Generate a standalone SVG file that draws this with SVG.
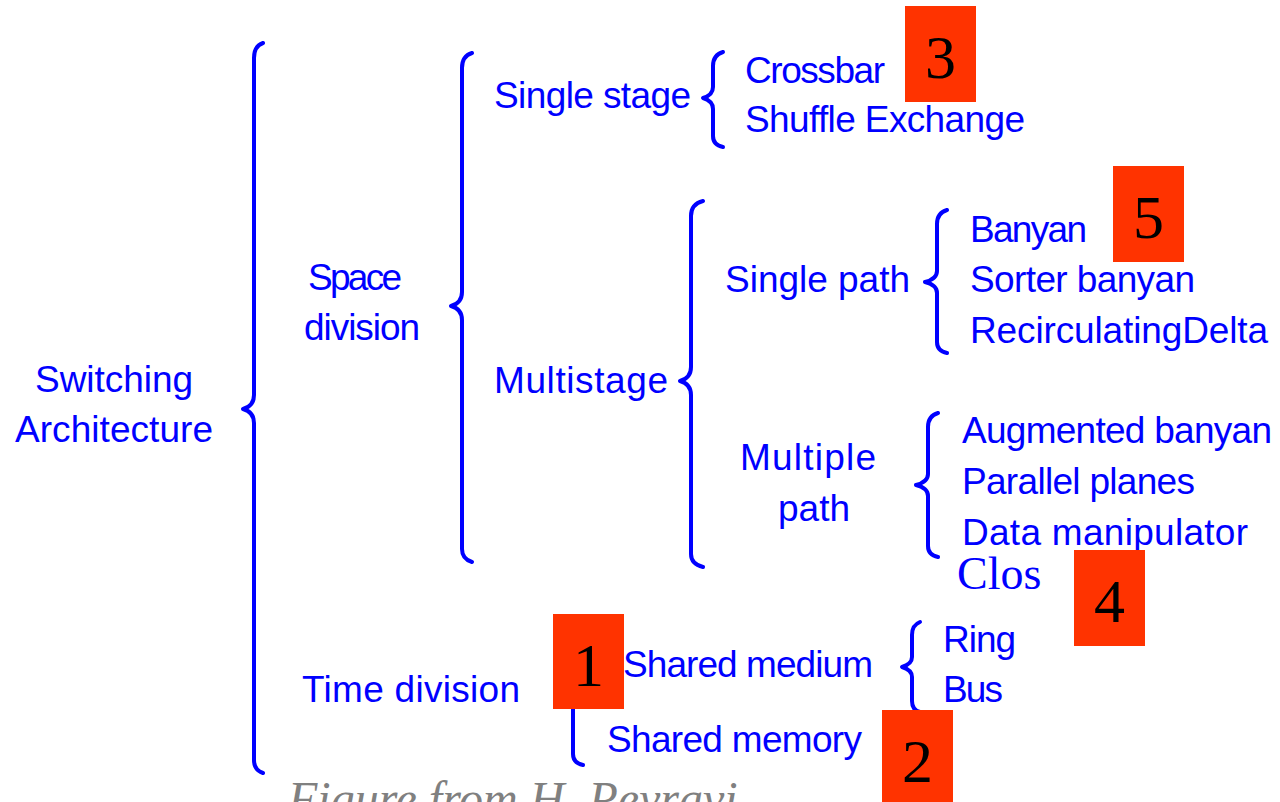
<svg xmlns="http://www.w3.org/2000/svg" width="1280" height="802" viewBox="0 0 1280 802">
  <style>
    .lbl { font-family: "Liberation Sans", Arial, sans-serif; font-size: 37px; fill: #0000ff; }
    .mid { text-anchor: middle; }
    .brace { fill: none; stroke: #0000ff; stroke-width: 4; stroke-linecap: round; stroke-linejoin: round; }
    .tag rect { fill: #ff3300; }
    .tag text { font-family: "Liberation Serif", "Times New Roman", serif; font-size: 62px; fill: #000000; text-anchor: middle; }
    .clos { font-family: "Liberation Serif", "Times New Roman", serif; font-size: 46px; fill: #0000ff; }
    .credit { font-family: "Liberation Serif", "Times New Roman", serif; font-style: italic; font-size: 48px; fill: #808080; }
  </style>
  <rect width="1280" height="802" fill="#ffffff"/>

  <!-- curly braces joining each level of the taxonomy -->
  <g id="connectors">
    <path class="brace" d="M263,43 Q254,46 254,58 L254,395 Q254,406 243,409 Q254,412 254,423 L254,760 Q254,770 263,773"/>
    <path class="brace" d="M472,53 Q462,56 462,68 L462,292 Q462,303 451,306 Q462,309 462,320 L462,549 Q462,559 472,562"/>
    <path class="brace" d="M703,201 Q691,204 691,216 L691,367 Q691,378 680,381 Q691,384 691,395 L691,554 Q691,564 703,567"/>
    <path class="brace" d="M723,52 Q713,55 713,66 L713,87 Q713,95 703,98 Q713,101 713,109 L713,136 Q713,145 723,147"/>
    <path class="brace" d="M947,210 Q937,213 937,224 L937,271 Q937,279 925,282 Q937,285 937,293 L937,342 Q937,351 947,353"/>
    <path class="brace" d="M938,413 Q928,416 928,427 L928,474 Q928,482 916,485 Q928,488 928,496 L928,546 Q928,555 938,557"/>
    <path class="brace" d="M920,622 Q912,625 912,635 L912,657 Q912,664 902,667 Q912,670 912,677 L912,701 Q912,710 920,712"/>
    <path class="brace" d="M583,620 Q573,623 573,633 L573,680 Q573,687 563,690 Q573,693 573,701 L573,754 Q573,763 583,765"/>
  </g>

  <g id="switching-architecture">
    <text class="lbl mid" x="114" y="392" textLength="158" lengthAdjust="spacing">Switching</text>
    <text class="lbl mid" x="114" y="442" textLength="198" lengthAdjust="spacing">Architecture</text>
  </g>

  <g id="space-division">
    <text class="lbl" x="308" y="290" textLength="94" lengthAdjust="spacing">Space</text>
    <text class="lbl" x="304" y="340" textLength="116" lengthAdjust="spacing">division</text>
  </g>

  <g id="time-division">
    <text class="lbl" x="302" y="702" textLength="218" lengthAdjust="spacing">Time division</text>
  </g>

  <g id="single-stage">
    <text class="lbl" x="494" y="108" textLength="197" lengthAdjust="spacing">Single stage</text>
  </g>

  <g id="crossbar">
    <text class="lbl" x="745" y="83" textLength="140" lengthAdjust="spacing">Crossbar</text>
  </g>

  <g id="shuffle-exchange">
    <text class="lbl" x="745" y="132" textLength="280" lengthAdjust="spacing">Shuffle Exchange</text>
  </g>

  <g id="multistage">
    <text class="lbl" x="494" y="393" textLength="174" lengthAdjust="spacing">Multistage</text>
  </g>

  <g id="single-path">
    <text class="lbl" x="725" y="292" textLength="185" lengthAdjust="spacing">Single path</text>
  </g>

  <g id="banyan">
    <text class="lbl" x="970" y="242" textLength="117" lengthAdjust="spacing">Banyan</text>
  </g>

  <g id="sorter-banyan">
    <text class="lbl" x="970" y="292" textLength="225" lengthAdjust="spacing">Sorter banyan</text>
  </g>

  <g id="recirculating-delta">
    <text class="lbl" x="970" y="343" textLength="298" lengthAdjust="spacing">RecirculatingDelta</text>
  </g>

  <g id="multiple-path">
    <text class="lbl mid" x="808" y="470" textLength="136" lengthAdjust="spacing">Multiple</text>
    <text class="lbl mid" x="814" y="521" textLength="72" lengthAdjust="spacing">path</text>
  </g>

  <g id="augmented-banyan">
    <text class="lbl" x="962" y="443" textLength="310" lengthAdjust="spacing">Augmented banyan</text>
  </g>

  <g id="parallel-planes">
    <text class="lbl" x="962" y="494" textLength="233" lengthAdjust="spacing">Parallel planes</text>
  </g>

  <g id="data-manipulator">
    <text class="lbl" x="962" y="545" textLength="286" lengthAdjust="spacing">Data manipulator</text>
  </g>

  <g id="clos">
    <text class="clos" x="957" y="589">Clos</text>
  </g>

  <g id="shared-medium">
    <text class="lbl" x="623" y="677" textLength="250" lengthAdjust="spacing">Shared medium</text>
  </g>

  <g id="ring">
    <text class="lbl" x="943" y="652" textLength="73" lengthAdjust="spacing">Ring</text>
  </g>

  <g id="bus">
    <text class="lbl" x="943" y="702" textLength="60" lengthAdjust="spacing">Bus</text>
  </g>

  <g id="shared-memory">
    <text class="lbl" x="607" y="752" textLength="255" lengthAdjust="spacing">Shared memory</text>
  </g>

  <!-- numbered markers -->
  <g id="tag-1" class="tag">
    <rect x="553" y="614" width="71" height="95"/>
    <text x="588.5" y="686">1</text>
  </g>
  <g id="tag-2" class="tag">
    <rect x="882" y="710" width="71" height="96"/>
    <text x="917.5" y="782">2</text>
  </g>
  <g id="tag-3" class="tag">
    <rect x="905" y="6" width="71" height="96"/>
    <text x="940.5" y="78">3</text>
  </g>
  <g id="tag-4" class="tag">
    <rect x="1074" y="550" width="71" height="96"/>
    <text x="1109.5" y="622">4</text>
  </g>
  <g id="tag-5" class="tag">
    <rect x="1113" y="166" width="71" height="96"/>
    <text x="1148.5" y="238">5</text>
  </g>

  <g id="credit">
    <text class="credit" x="288" y="815">Figure from H. Peyravi</text>
  </g>
</svg>
